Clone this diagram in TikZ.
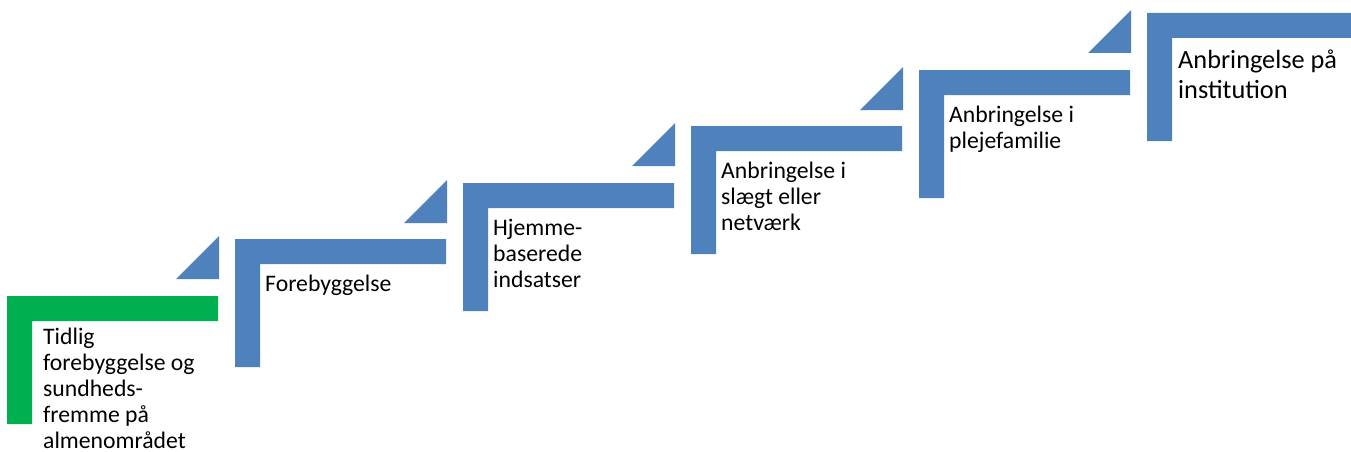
\documentclass[tikz,border=0pt]{standalone}
\usepackage{fontspec}
\setmainfont{Carlito}
\usepackage{tikz}
\usetikzlibrary{positioning}
\definecolor{StepBlue}{HTML}{4F81BD}
\definecolor{StepGreen}{HTML}{00B050}

\tikzset{
  steptext/.style={anchor=base west, inner sep=0pt, align=left,
    font=\fontsize{23.7}{26}\selectfont},
  bigtext/.style={steptext, font=\fontsize{26.3}{30}\selectfont}
}

\begin{document}
\begin{tikzpicture}[x=1pt,y=-1pt]
    \clip (0,0) rectangle (1351,452);

    % trappetrin (L-former)
    \fill[StepGreen] (7,296) -- ++(211,0) -- ++(0,25) -- ++(-186,0) -- ++(0,103) -- ++(-25,0) -- cycle;
    \fill[StepBlue] (235,239) -- ++(211,0) -- ++(0,25) -- ++(-186,0) -- ++(0,103) -- ++(-25,0) -- cycle;
    \fill[StepBlue] (463,183) -- ++(211,0) -- ++(0,25) -- ++(-186,0) -- ++(0,103) -- ++(-25,0) -- cycle;
    \fill[StepBlue] (691,126) -- ++(211,0) -- ++(0,25) -- ++(-186,0) -- ++(0,103) -- ++(-25,0) -- cycle;
    \fill[StepBlue] (919,70) -- ++(211,0) -- ++(0,25) -- ++(-186,0) -- ++(0,103) -- ++(-25,0) -- cycle;
    \fill[StepBlue] (1147,13) -- ++(211,0) -- ++(0,25) -- ++(-186,0) -- ++(0,103) -- ++(-25,0) -- cycle;

    % trekanter mellem trinene
    \fill[StepBlue] (219,236) -- ++(0,43) -- ++(-43,0) -- cycle;
    \fill[StepBlue] (447,180) -- ++(0,43) -- ++(-43,0) -- cycle;
    \fill[StepBlue] (675,123) -- ++(0,43) -- ++(-43,0) -- cycle;
    \fill[StepBlue] (903,67) -- ++(0,43) -- ++(-43,0) -- cycle;
    \fill[StepBlue] (1131,10) -- ++(0,43) -- ++(-43,0) -- cycle;

    % tekst (base = sidste linjes grundlinje)
    \node[steptext] (tidlig) at (43,448) {Tidlig\\forebyggelse og\\sundheds-\\fremme på\\almenområdet};
    \node[steptext] (forebyg) at (265,291) {Forebyggelse};
    \node[steptext] (hjemme) at (493,287) {Hjemme-\\baserede\\indsatser};
    \node[steptext] (slaegt) at (721,230) {Anbringelse i\\slægt eller\\netværk};
    \node[steptext] (pleje) at (949,148) {Anbringelse i\\plejefamilie};
    \node[bigtext] (institution) at (1178,98) {Anbringelse på\\institution};
\end{tikzpicture}
\end{document}
